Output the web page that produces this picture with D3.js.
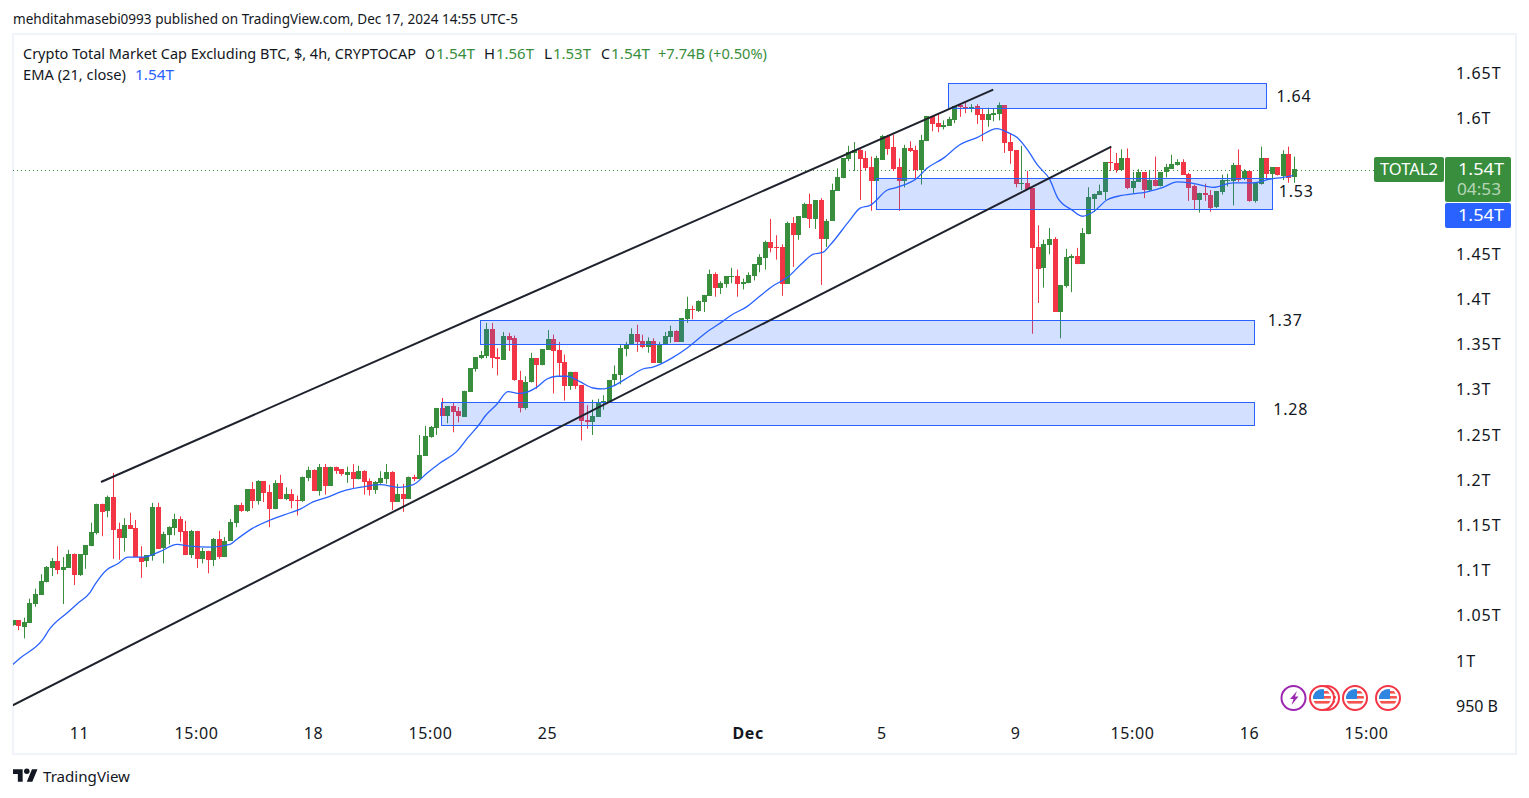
<!DOCTYPE html>
<meta charset="utf-8">
<style>
  body { margin: 0; background: #fff; }
  text { font-family: "Noto Sans", Roboto, sans-serif; fill: #131722; }
  .tick text { font-size: 16px; }
</style>
<script src="https://d3js.org/d3.v7.min.js"></script>
<div id="my_chart"></div>
<script>
// values in billions of USD, one entry per 4h bar
const opens = [1039,1045,1038,1042,1063,1073,1087,1103,1111,1101,1103,1118,1095,1117,1127,1142,1174,1165,1181,1146,1136,1150,1147,1115,1110,1116,1170,1124,1139,1147,1157,1144,1117,1144,1113,1122,1112,1135,1115,1133,
  1153,1173,1166,1190,1177,1199,1187,1168,1197,1179,1185,1178,1177,1202,1211,1188,1215,1194,1215,1212,1206,1209,1201,1210,1199,1189,1197,1201,1209,1176,1185,1180,1204,1201,1227,1248,1258,1280,1271,1282,
  1276,1270,1298,1323,1335,1337,1367,1336,1334,1360,1357,1311,1280,1308,1335,1327,1344,1356,1344,1331,1305,1320,1305,1267,1264,1270,1287,1287,1310,1316,1345,1350,1362,1354,1347,1354,1330,1350,1358,1365,
  1353,1378,1389,1387,1397,1404,1428,1412,1417,1425,1426,1417,1418,1426,1438,1446,1464,1458,1458,1417,1484,1471,1491,1506,1489,1510,1467,1487,1520,1534,1555,1562,1565,1556,1546,1531,1555,1581,1569,1546,
  1530,1567,1565,1543,1575,1603,1595,1591,1592,1598,1615,1613,1611,1614,1605,1598,1604,1605,1615,1574,1565,1528,1529,1523,1458,1434,1460,1467,1386,1415,1446,1448,1439,1472,1512,1516,1519,1552,1551,1543,
  1556,1523,1530,1541,1521,1532,1525,1540,1545,1549,1552,1539,1525,1510,1518,1516,1502,1519,1531,1531,1549,1533,1542,1509,1527,1556,1538,1546,1537,1561,1535];
const highs = [1045,1045,1048,1069,1080,1096,1105,1114,1127,1115,1123,1119,1118,1128,1153,1174,1174,1183,1208,1153,1158,1164,1156,1127,1117,1175,1175,1143,1149,1163,1160,1155,1145,1144,1125,1122,1136,1144,1137,1157,
  1173,1175,1190,1198,1200,1199,1195,1200,1206,1192,1190,1183,1204,1215,1212,1218,1218,1215,1215,1212,1215,1218,1216,1211,1202,1199,1210,1218,1210,1196,1196,1204,1206,1250,1260,1260,1280,1291,1282,1286,
  1281,1299,1324,1336,1343,1374,1374,1346,1364,1363,1360,1321,1315,1341,1335,1345,1366,1361,1353,1339,1320,1320,1305,1283,1289,1290,1294,1311,1327,1350,1353,1368,1372,1361,1358,1357,1353,1364,1371,1366,
  1379,1403,1393,1399,1405,1433,1430,1420,1426,1435,1433,1423,1430,1439,1450,1465,1489,1471,1461,1486,1491,1492,1507,1517,1510,1512,1489,1528,1545,1556,1570,1574,1567,1564,1558,1559,1582,1582,1582,1556,
  1571,1575,1570,1582,1603,1603,1606,1598,1602,1614,1616,1618,1616,1616,1611,1612,1611,1618,1615,1584,1565,1570,1542,1523,1482,1466,1479,1469,1416,1456,1450,1457,1479,1524,1517,1527,1552,1569,1562,1566,
  1567,1541,1544,1541,1542,1558,1541,1550,1560,1555,1555,1540,1527,1518,1528,1521,1520,1538,1539,1551,1566,1544,1542,1529,1569,1556,1546,1546,1565,1569,1558];
const lows = [1039,1034,1025,1042,1060,1073,1087,1094,1096,1063,1103,1084,1094,1102,1127,1140,1138,1159,1113,1112,1121,1146,1115,1092,1104,1111,1124,1108,1129,1139,1132,1117,1114,1103,1108,1097,1105,1113,1115,1133,
  1148,1165,1165,1169,1173,1176,1148,1168,1179,1178,1169,1161,1176,1199,1188,1183,1184,1194,1207,1205,1197,1191,1201,1184,1183,1185,1196,1196,1167,1176,1165,1180,1199,1201,1227,1247,1250,1271,1263,1253,
  1264,1270,1298,1320,1334,1335,1324,1316,1333,1343,1310,1275,1278,1308,1301,1327,1344,1296,1315,1288,1300,1301,1244,1257,1250,1270,1278,1287,1304,1306,1337,1350,1342,1346,1341,1330,1330,1350,1352,1353,
  1353,1374,1378,1386,1386,1404,1403,1406,1413,1418,1403,1411,1418,1421,1430,1433,1452,1444,1404,1417,1436,1466,1491,1479,1478,1416,1458,1487,1520,1534,1553,1542,1510,1543,1498,1531,1555,1560,1542,1498,
  1524,1563,1533,1527,1575,1586,1585,1588,1592,1595,1602,1606,1607,1594,1575,1591,1597,1598,1562,1550,1524,1521,1522,1362,1396,1413,1450,1386,1357,1413,1408,1439,1439,1472,1497,1516,1510,1542,1540,1543,
  1522,1517,1530,1512,1519,1525,1525,1535,1545,1548,1538,1509,1500,1496,1509,1497,1501,1516,1525,1504,1530,1532,1508,1507,1527,1532,1521,1537,1532,1529,1529];
const closes = [1045,1038,1043,1064,1074,1088,1104,1111,1101,1104,1118,1095,1118,1128,1143,1174,1165,1181,1145,1136,1150,1146,1115,1110,1117,1170,1124,1140,1148,1157,1143,1117,1144,1113,1122,1112,1135,1115,1133,1154,
  1173,1166,1190,1177,1199,1186,1168,1197,1179,1185,1177,1177,1204,1211,1188,1215,1194,1215,1211,1206,1209,1201,1210,1198,1189,1198,1202,1209,1176,1185,1180,1204,1202,1228,1249,1259,1280,1271,1282,1275,
  1270,1299,1324,1336,1338,1367,1335,1334,1360,1356,1310,1280,1309,1335,1327,1345,1356,1343,1330,1305,1320,1304,1265,1265,1271,1287,1288,1311,1317,1346,1351,1362,1353,1347,1354,1330,1351,1360,1365,1353,
  1379,1389,1388,1398,1405,1428,1412,1418,1426,1426,1417,1419,1427,1439,1447,1464,1457,1457,1417,1484,1471,1492,1506,1489,1510,1467,1487,1521,1535,1556,1563,1565,1555,1545,1531,1556,1581,1567,1545,1530,
  1567,1564,1543,1576,1603,1594,1591,1593,1600,1614,1613,1611,1613,1604,1598,1605,1606,1615,1573,1564,1527,1529,1522,1457,1434,1461,1467,1386,1416,1447,1448,1439,1473,1513,1517,1520,1552,1551,1543,1556,
  1523,1531,1541,1521,1532,1525,1541,1546,1550,1552,1538,1524,1510,1518,1516,1502,1520,1532,1532,1549,1532,1542,1509,1529,1556,1538,1546,1537,1561,1535,1544];

// EMA 21: bar position and value
const emaIdx = [0,1.3,5.3,6.7,9.9,11.7,13.9,14.8,16.9,18.7,20.7,23.4,26.4,29.5,31.8,35.4,39,40.3,43.1,46.2,49.8,51.6,53.9,56.4,59.3,62.3,65.9,69.5,71.9,74.4,76.7,79.9,81.7,83.9,84.8,86.9,88.9,91,94.1,95.9,97.7,99.5,101.8,104.2,105.9,107.7,110.8,113.1,114.9,118.3,121,124.6,127.5,129.1,131.8,133.8,136.5,139.2,141.7,143.7,145.4,146.7,150.3,152.1,153.9,157,158.7,162.3,164.1,167,170,173.1,176.7,178.5,180.3,182.2,183.9,186.2,187.6,190.1,192,194,196.4,199.1,203.6,206.5,209,211.3,215.5,219,222.6,225.7,228,229.8];
const emaVal = [996,1003,1023,1036,1054,1064,1076,1085,1101,1107,1115,1115,1121,1129,1127,1126,1129,1135,1147,1156,1164,1168,1176,1181,1188,1192,1195,1192,1195,1208,1219,1233,1247,1263,1271,1284,1298,1296,1303,1312,1315,1315,1309,1302,1301,1304,1315,1323,1325,1335,1346,1364,1376,1383,1392,1402,1415,1425,1440,1450,1452,1460,1488,1501,1504,1521,1524,1534,1545,1556,1571,1579,1589,1585,1579,1565,1549,1532,1512,1499,1492,1497,1510,1515,1519,1524,1530,1529,1524,1529,1529,1533,1535,1537];

// rectangles drawn on the chart
const zoneStart = [167.9,154.95,83.9,76.9];
const zoneEnd = [225,226,222.8,222.8];
const zoneTop = [1639,1534,1377,1286];
const zoneBottom = [1611,1500,1350,1261];
const zoneLabels = ["1.64","1.53","1.37","1.28"];
const zoneLabelBar = [230,230.4,228.4,229.4];
const zoneLabelVal = [1625,1519,1377,1278];

// channel lines
const channelBars = [[15.85,176],[0,197.2]];
const channelVals = [[1198,1632],[951,1569]];

const lastPrice = 1543;
const priceTicks = [950,1000,1050,1100,1150,1200,1250,1300,1350,1400,1450,1600,1650];
const timeTicks = [12,33,54,75,96,132,156,180,201,222,243];
const timeLabels = ["11","15:00","18","15:00","25","Dec","5","9","15:00","16","15:00"];

const width = 1529, height = 798;
const green = "#388e3c", red = "#f23645", blue = "#2962ff";

const svg = d3.select("#my_chart").append("svg")
    .attr("width", width)
    .attr("height", height)
    .style("display", "block");

// panel frame
svg.append("rect")
    .attr("x", 13).attr("y", 34).attr("width", 1503).attr("height", 720)
    .attr("fill", "none").attr("stroke", "#f0f3fa").attr("stroke-width", 2);

svg.append("defs").append("clipPath").attr("id", "plot")
  .append("rect").attr("x", 13).attr("y", 35).attr("width", 1432).attr("height", 718);

// scales
const x = d3.scaleLinear().domain([0, 230]).range([12.73, 1294.06]);
const y = d3.scaleLinear().domain([1000, 1650]).range([661, 73.4]);

// axes
const yAxis = d3.axisRight(y).tickValues(priceTicks).tickSize(0).tickPadding(0)
    .tickFormat(d => d < 1000 ? d + " B" : (d / 1000) + "T");
svg.append("g").attr("transform", "translate(1456,0)").call(yAxis)
    .call(g => g.select(".domain").remove())
    .call(g => g.selectAll("text").style("letter-spacing", d => d < 1000 ? null : "1px"));

const xAxis = d3.axisBottom(x).tickValues(timeTicks).tickSize(0).tickPadding(0)
    .tickFormat((d, i) => timeLabels[i]);
svg.append("g").attr("transform", "translate(-0.5,728)").call(xAxis)
    .call(g => g.select(".domain").remove())
    .call(g => g.selectAll("text").style("letter-spacing", "0.6px").style("font-weight", d => d == 132 ? "bold" : null));

const plot = svg.append("g").attr("clip-path", "url(#plot)");

// last price line
plot.append("line")
    .attr("x1", 13).attr("x2", 1374)
    .attr("y1", Math.round(y(lastPrice)) + 0.5).attr("y2", Math.round(y(lastPrice)) + 0.5)
    .attr("stroke", green).attr("stroke-dasharray", "1 3");

// candles
const bars = d3.range(opens.length);
const candle = plot.append("g").selectAll("g").data(bars).join("g")
    .attr("fill", i => closes[i] >= opens[i] ? green : red);
candle.append("rect")
    .attr("x", i => Math.round(x(i)))
    .attr("width", 1)
    .attr("y", i => y(highs[i]))
    .attr("height", i => y(lows[i]) - y(highs[i]));
candle.append("rect")
    .attr("x", i => Math.round(x(i)) - 2)
    .attr("width", 5)
    .attr("y", i => Math.round(y(Math.max(opens[i], closes[i]))))
    .attr("height", i => Math.max(1, Math.round(Math.abs(y(opens[i]) - y(closes[i])))));

// EMA
plot.append("path")
    .attr("d", d3.line().x((d, i) => x(emaIdx[i])).y(d => y(d)).curve(d3.curveMonotoneX)(emaVal))
    .attr("fill", "none").attr("stroke", blue).attr("stroke-width", 1.3);

// zones
plot.append("g").selectAll("rect").data(zoneStart).join("rect")
    .attr("x", d => Math.round(x(d)) + 0.5)
    .attr("width", (d, i) => Math.round(x(zoneEnd[i]) - x(d)))
    .attr("y", (d, i) => Math.round(y(zoneTop[i])) + 0.5)
    .attr("height", (d, i) => Math.round(y(zoneBottom[i]) - y(zoneTop[i])))
    .attr("fill", blue).attr("fill-opacity", 0.2)
    .attr("stroke", blue).attr("stroke-width", 1);

svg.append("g").selectAll("text").data(zoneLabels).join("text")
    .attr("x", (d, i) => x(zoneLabelBar[i]))
    .attr("y", (d, i) => y(zoneLabelVal[i]))
    .attr("dy", "0.35em")
    .attr("text-anchor", "middle")
    .style("font-size", "16px")
    .style("letter-spacing", "0.8px")
    .text(d => d);

// channel
channelBars.forEach((b, k) => {
  plot.append("line")
      .attr("x1", x(b[0])).attr("y1", y(channelVals[k][0]))
      .attr("x2", x(b[1])).attr("y2", y(channelVals[k][1]))
      .attr("stroke", "#1e222d").attr("stroke-width", 2);
});

// price tags
svg.append("rect").attr("x", 1374).attr("y", 157).attr("width", 70).attr("height", 25).attr("rx", 2).attr("fill", green);
svg.append("rect").attr("x", 1445).attr("y", 157).attr("width", 66).attr("height", 45).attr("rx", 2).attr("fill", green);
svg.append("rect").attr("x", 1445).attr("y", 203).attr("width", 66).attr("height", 25).attr("rx", 2).attr("fill", blue);

function tag(px, py, str, anchor, color, w) {
  svg.append("text").attr("x", px).attr("y", py)
      .attr("text-anchor", anchor)
      .attr("textLength", w).attr("lengthAdjust", "spacingAndGlyphs")
      .style("font-size", "16px").style("fill", color).text(str);
}
tag(1380, 175, "TOTAL2", "start", "#fff", 58);
tag(1458, 175, "1.54T", "start", "#fff", 46);
tag(1457, 195, "04:53", "start", "rgba(255,255,255,0.65)", 44);
tag(1458, 221, "1.54T", "start", "#fff", 46);

// header and legend, widths fitted to the picture
function label(px, py, str, color, w, size) {
  svg.append("text").attr("x", px).attr("y", py)
      .attr("textLength", w).attr("lengthAdjust", "spacingAndGlyphs")
      .style("font-size", size + "px").style("fill", color).text(str);
}
label(13, 24, "mehditahmasebi0993 published on TradingView.com, Dec 17, 2024 14:55 UTC-5", "#131722", 505, 14);
label(23, 59, "Crypto Total Market Cap Excluding BTC, $, 4h, CRYPTOCAP", "#131722", 393, 14);
const legendStr = ["O","1.54T","H","1.56T","L","1.53T","C","1.54T","+7.74B (+0.50%)"];
const legendX = [425,436,484,496,544,553,601,611,658];
const legendW = [10,39,11,38,8,38,9,39,109];
legendStr.forEach((s, i) => label(legendX[i], 59, s, i % 2 == 0 && i < 8 ? "#131722" : green, legendW[i], 14));
label(23, 80, "EMA (21, close)", "#131722", 103, 14);
label(135, 80, "1.54T", blue, 39, 14);

// event icons
const icons = svg.append("g");
icons.append("circle").attr("cx", 1293.5).attr("cy", 698).attr("r", 12).attr("fill", "#fff").attr("stroke", "#9c27b0").attr("stroke-width", 2);
icons.append("path").attr("d", "M1297 691l-7 8h3.500l-2 6 7-8.500h-3.500z").attr("fill", "#9c27b0");
[1327, 1322, 1355, 1388].forEach(cx => {
  const g = icons.append("g").attr("transform", `translate(${cx},698)`);
  g.append("circle").attr("r", 12).attr("fill", "#fff").attr("stroke", "#f23645").attr("stroke-width", 2);
  g.append("clipPath").attr("id", "f" + cx).append("circle").attr("r", 9);
  const f = g.append("g").attr("clip-path", `url(#f${cx})`);
  f.append("rect").attr("x", -9).attr("y", -9).attr("width", 18).attr("height", 18).attr("fill", "#fff");
  [-7, -2, 3].forEach(sy => f.append("rect").attr("x", -9).attr("y", sy).attr("width", 18).attr("height", 2.6).attr("fill", "#f4534f"));
  f.append("rect").attr("x", -9).attr("y", -9).attr("width", 11).attr("height", 10).attr("fill", "#2e86e0");
});

// footer logo
svg.append("path")
    .attr("transform", "translate(13,766.5) scale(0.69)")
    .attr("d", "M14 22H7V11H0V4h14v18zM28 22h-8l7.500-18h8L28 22z")
    .attr("fill", "#131722");
svg.append("circle").attr("cx", 13 + 20 * 0.69).attr("cy", 766.5 + 7 * 0.69).attr("r", 4 * 0.69).attr("fill", "#131722");
label(43, 782, "TradingView", "#131722", 87, 15);
</script>
</html>
